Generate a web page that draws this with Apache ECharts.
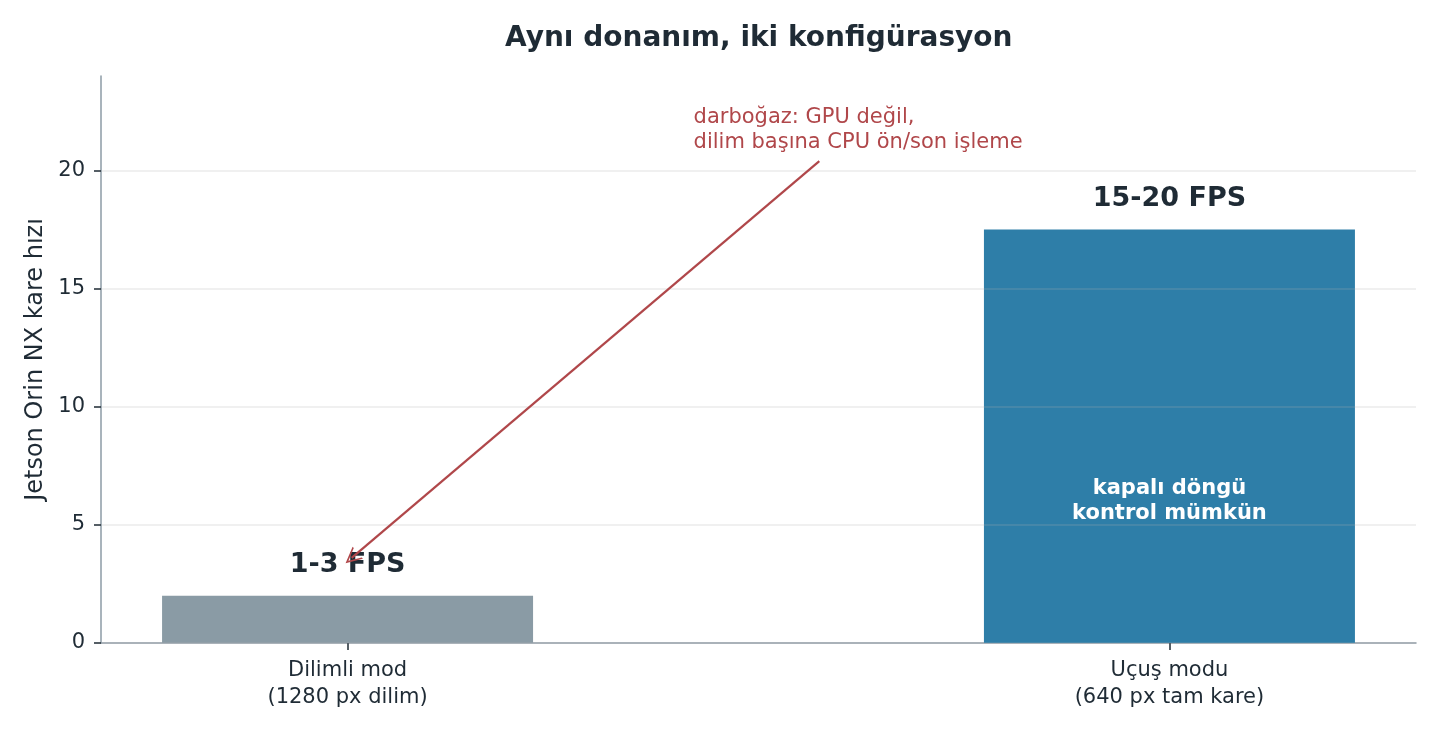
<!DOCTYPE html>
<html>
<head>
<meta charset="utf-8">
<title>Aynı donanım, iki konfigürasyon</title>
<script src="https://cdn.jsdelivr.net/npm/echarts@6/dist/echarts.min.js"></script>
<style>
  html, body { margin: 0; padding: 0; background: #ffffff; }
  #chart { width: 1440px; height: 736px; }
</style>
</head>
<body>
<div id="chart"></div>
<script>
// Chart data
var categories = ['Dilimli mod\n(1280 px dilim)', 'Uçuş modu\n(640 px tam kare)'];
var categoryPos = [0, 1];
var fpsValues = [2, 17.5];
var fpsLabels = ['1-3 FPS', '15-20 FPS'];
var barColors = ['#8a9ba5', '#2e7ea8'];
var yTicks = [0, 5, 10, 15, 20];

// Annotations
var insideNote = [1, 6];
var insideText = 'kapalı döngü\nkontrol mümkün';
var noteAnchor = [0.421, 21.72];
var noteText = 'darboğaz: GPU değil,\ndilim başına CPU ön/son işleme';
var arrowFrom = [0.574, 20.4];
var arrowTo = [0.005, 3.6];

var textColor = '#1f2b35';
var noteColor = '#b0474a';
var font = 'DejaVu Sans';

var chart = echarts.init(document.getElementById('chart'));

var option = {
  animation: false,
  backgroundColor: '#ffffff',
  textStyle: { fontFamily: font },
  title: {
    text: 'Aynı donanım, iki konfigürasyon',
    left: 500,
    top: 20,
    textStyle: { fontFamily: font, fontSize: 28, fontWeight: 'bold', color: textColor }
  },
  grid: { left: 101, right: 24, top: 76, bottom: 93 },
  xAxis: {
    type: 'value',
    min: -0.3,
    max: 1.3,
    splitLine: { show: false },
    axisLine: { show: true, onZero: false, lineStyle: { color: '#8d9ba6', width: 1.5 } },
    axisTick: { show: true, customValues: categoryPos, length: 7, lineStyle: { color: textColor, width: 1.5 } },
    axisLabel: {
      customValues: categoryPos,
      margin: 14,
      fontSize: 21,
      lineHeight: 27,
      color: textColor,
      fontFamily: font,
      formatter: function (v) { return categories[Math.round(v)]; }
    }
  },
  yAxis: {
    type: 'value',
    min: 0,
    max: 24,
    interval: 5,
    z: 3,
    name: 'Jetson Orin NX kare hızı',
    nameLocation: 'middle',
    nameGap: 52,
    nameTextStyle: { fontFamily: font, fontSize: 24, color: textColor },
    axisLine: { show: true, onZero: false, lineStyle: { color: '#8d9ba6', width: 1.5 } },
    axisTick: { show: true, customValues: yTicks, length: 7, lineStyle: { color: textColor, width: 1.5 } },
    axisLabel: { customValues: yTicks, margin: 16, fontSize: 21, color: textColor, fontFamily: font },
    splitLine: { show: true, lineStyle: { color: 'rgba(180,180,180,0.25)', width: 1.5 } }
  },
  series: [
    {
      type: 'bar',
      barWidth: 371,
      data: fpsValues.map(function (v, i) {
        return {
          value: [categoryPos[i], v],
          itemStyle: { color: barColors[i] },
          label: { formatter: fpsLabels[i] }
        };
      }),
      label: {
        show: true,
        position: 'top',
        distance: 17,
        fontFamily: font,
        fontSize: 27,
        fontWeight: 'bold',
        color: textColor
      },
      markLine: {
        silent: true,
        symbol: ['none', 'path://M0,0 L6,12 L4.6,12 L0,2.8 L-4.6,12 L-6,12 Z'],
        symbolSize: [16, 16],
        label: { show: false },
        itemStyle: { color: noteColor },
        lineStyle: { color: noteColor, width: 2.2, type: 'solid' },
        data: [[{ coord: arrowFrom }, { coord: arrowTo }]]
      }
    },
    {
      type: 'scatter',
      symbolSize: 0,
      silent: true,
      z: 5,
      itemStyle: { opacity: 1 },
      data: [insideNote],
      label: {
        show: true,
        position: 'inside',
        formatter: insideText,
        fontFamily: font,
        fontSize: 21,
        fontWeight: 'bold',
        lineHeight: 25,
        color: '#ffffff',
        align: 'center'
      }
    },
    {
      type: 'scatter',
      symbolSize: 0,
      silent: true,
      z: 5,
      itemStyle: { opacity: 1 },
      data: [noteAnchor],
      label: {
        show: true,
        position: 'right',
        distance: 0,
        formatter: noteText,
        fontFamily: font,
        fontSize: 21,
        lineHeight: 25,
        color: noteColor,
        align: 'left',
        verticalAlign: 'middle'
      }
    }
  ]
};

chart.setOption(option);
</script>
</body>
</html>
